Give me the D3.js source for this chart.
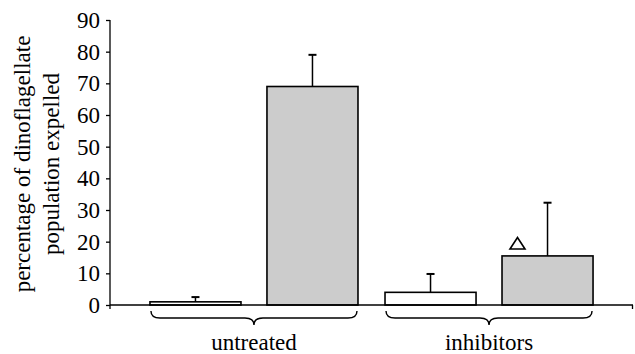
<!DOCTYPE html>
<html>
<head>
<meta charset="utf-8">
<script src="https://cdn.jsdelivr.net/npm/d3@7"></script>
<style>
  html, body { margin: 0; padding: 0; background: #fff; }
  svg { display: block; }
  svg text { font-family: "Liberation Serif", "Times New Roman", Tinos; }
</style>
</head>
<body>
<svg id="chart" width="635" height="354" font-family="Liberation Serif"></svg>
<script>
// ---- data ----
const groups = ["untreated", "inhibitors"];
const seriesNames = ["white", "grey"];
const whiteValues = [1.0, 4.0];
const greyValues = [69.0, 15.5];
const whiteErrors = [1.5, 5.8];
const greyErrors = [10.0, 16.8];
const yTicks = [0, 10, 20, 30, 40, 50, 60, 70, 80, 90];
const yTitleLines = ["percentage of dinoflagellate", "population expelled"];
const markers = [{ group: "inhibitors", series: "grey", value: 19.5 }];

const fills = { white: "#ffffff", grey: "#cccccc" };

const svg = d3.select("#chart");

function serif(sel) {
  return sel.attr("font-family", "Liberation Serif").style("font-family", '"Liberation Serif", "Times New Roman", Tinos').style("font-size", "23px");
}

const y = d3.scaleLinear().domain([0, 90]).range([305, 20]);
const x0 = d3.scaleBand().domain(groups).range([110, 633]).paddingInner(0.115).paddingOuter(0.17);
const x1 = d3.scaleBand().domain(seriesNames).range([0, x0.bandwidth()]).paddingInner(0.222).paddingOuter(0);

const rows = [];
groups.forEach((g, i) => {
  rows.push({ group: g, series: "white", value: whiteValues[i], err: whiteErrors[i] });
  rows.push({ group: g, series: "grey", value: greyValues[i], err: greyErrors[i] });
});

// bars
svg.append("g").selectAll("rect").data(rows).join("rect")
  .attr("x", d => x0(d.group) + x1(d.series))
  .attr("y", d => y(d.value))
  .attr("width", x1.bandwidth())
  .attr("height", d => y(0) - y(d.value))
  .attr("fill", d => fills[d.series])
  .attr("stroke", "#000")
  .attr("stroke-width", 1.6);

// error bars (upper only)
const eb = svg.append("g").attr("stroke", "#000").attr("stroke-width", 1.5);
rows.forEach(d => {
  const cx = x0(d.group) + x1(d.series) + x1.bandwidth() / 2;
  eb.append("line").attr("x1", cx).attr("x2", cx)
    .attr("y1", y(d.value)).attr("y2", y(d.value + d.err));
  eb.append("line").attr("x1", cx - 4).attr("x2", cx + 4)
    .attr("y1", y(d.value + d.err)).attr("y2", y(d.value + d.err))
    .attr("stroke-width", 2);
});

// markers (open triangle)
markers.forEach(m => {
  const cx = x0(m.group) + x1(m.series) + x1.bandwidth() * 0.17;
  const cy = y(m.value);
  svg.append("path")
    .attr("d", `M${cx - 7.5},${cy + 5.7} L${cx},${cy - 5.7} L${cx + 7.5},${cy + 5.7} Z`)
    .attr("fill", "#fff").attr("stroke", "#000").attr("stroke-width", 1.6);
});

// y axis
const yAxis = d3.axisLeft(y).tickValues(yTicks).tickSize(4).tickPadding(6).tickSizeOuter(0);
const gy = svg.append("g").attr("transform", "translate(110,0)").call(yAxis);
gy.attr("font-family", "Liberation Serif").attr("font-size", 23);
gy.select(".domain").remove();
gy.selectAll(".tick line").attr("stroke", "#000").attr("stroke-width", 1.3);
serif(gy.selectAll(".tick text")).attr("fill", "#000");
svg.append("line").attr("x1", 110).attr("x2", 110).attr("y1", y(90)).attr("y2", y(0) + 4)
  .attr("stroke", "#000").attr("stroke-width", 1.3);

// x axis line with end ticks
svg.append("line").attr("x1", 110).attr("x2", 633).attr("y1", y(0)).attr("y2", y(0))
  .attr("stroke", "#000").attr("stroke-width", 1.3);
svg.append("line").attr("x1", 632.5).attr("x2", 632.5).attr("y1", y(0)).attr("y2", y(0) + 4)
  .attr("stroke", "#000").attr("stroke-width", 1.3);

// braces and group labels
function brace(xa, xb, top, h) {
  const xm = (xa + xb) / 2, mid = top + h / 2, q = 9;
  return `M${xa},${top} Q${xa},${mid} ${xa + q},${mid} L${xm - q},${mid} Q${xm},${mid} ${xm},${top + h}` +
         ` Q${xm},${mid} ${xm + q},${mid} L${xb - q},${mid} Q${xb},${mid} ${xb},${top}`;
}
groups.forEach(g => {
  const xa = x0(g) + 1, xb = x0(g) + x0.bandwidth() - 1;
  svg.append("path").attr("d", brace(xa, xb, 311, 14))
    .attr("fill", "none").attr("stroke", "#000").attr("stroke-width", 1.4);
  serif(svg.append("text")).attr("x", (xa + xb) / 2).attr("y", 350)
    .attr("text-anchor", "middle").text(g);
});

// y title
const yt = serif(svg.append("text")).attr("transform", "translate(30,164) rotate(-90)")
  .attr("text-anchor", "middle");
yt.append("tspan").attr("x", 0).attr("y", 0).text(yTitleLines[0]);
yt.append("tspan").attr("x", 0).attr("y", 29).text(yTitleLines[1]);
</script>
</body>
</html>
